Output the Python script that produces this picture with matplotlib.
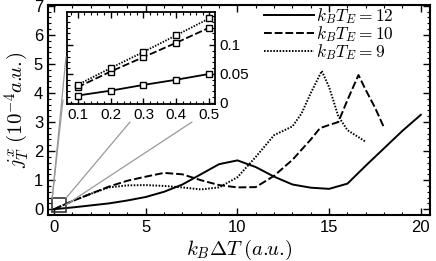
import matplotlib
matplotlib.use("Agg")
import matplotlib.pyplot as plt
from matplotlib.patches import Rectangle, ConnectionPatch
from matplotlib.ticker import MultipleLocator

plt.rcParams['font.family'] = ['Liberation Sans', 'DejaVu Sans']
plt.rcParams['mathtext.fontset'] = 'cm'

# main curves, j_T^x (10^-4 a.u.) vs k_B dT
x_12 = [0, 1, 2, 3, 4, 5, 6, 7, 8, 9, 10, 11, 12, 13, 14, 15, 16, 17, 18, 19, 20]
y_12 = [0, 0.06, 0.13, 0.2, 0.3, 0.42, 0.6, 0.85, 1.2, 1.55, 1.68, 1.45, 1.12,
        0.85, 0.74, 0.7, 0.88, 1.5, 2.1, 2.7, 3.25]

x_10 = [0, 1, 2, 3, 4, 5, 6, 7, 8, 9, 10, 11, 12, 13, 14, 14.5, 15, 15.5,
        16, 16.6, 17, 17.5, 18]
y_10 = [0, 0.28, 0.53, 0.78, 0.98, 1.12, 1.25, 1.2, 1.0, 0.83, 0.75, 0.76,
        1.15, 1.7, 2.4, 2.79, 2.9, 3.0, 3.76, 4.62, 4.1, 3.5, 2.8]

x_9 = [0, 1, 2, 3, 4, 5, 6, 7, 8, 9, 10, 11, 12, 13, 13.5, 14, 14.6, 15,
       15.5, 16, 17]
y_9 = [0, 0.28, 0.53, 0.75, 0.82, 0.83, 0.8, 0.75, 0.68, 0.75, 1.1, 1.8,
       2.55, 2.85, 3.3, 4.0, 4.76, 4.2, 3.2, 2.72, 2.32]

# inset: small dT
x_in = [0.1, 0.2, 0.3, 0.4, 0.5]
in_12 = [0.0126, 0.021, 0.031, 0.040, 0.050]
in_10 = [0.027, 0.054, 0.079, 0.104, 0.130]
in_9 = [0.031, 0.060, 0.088, 0.117, 0.146]

labels = ['$k_BT_E=12$', '$k_BT_E=10$', '$k_BT_E=9$']

W, H = 436, 261
fig = plt.figure(figsize=(W / 100, H / 100), dpi=100)
fig.set_facecolor('white')
ax = fig.add_axes([48 / W, 1 - 215 / H, 382 / W, 210 / H])

ax.plot(x_12, y_12, 'k-', lw=1.4, label=labels[0])
ax.plot(x_10, y_10, 'k--', lw=1.4, dashes=(4, 1.5), label=labels[1])
ax.plot(x_9, y_9, 'k:', lw=1.4, dashes=(0.8, 0.8), label=labels[2])

ax.set_xlim(-0.33, 20.5)
ax.set_ylim(-0.2, 7.03)
ax.xaxis.set_major_locator(MultipleLocator(5))
ax.xaxis.set_minor_locator(MultipleLocator(1))
ax.yaxis.set_major_locator(MultipleLocator(1))
ax.yaxis.set_minor_locator(MultipleLocator(0.2))
ax.tick_params(which='both', direction='in', top=True, right=True, labelsize=12)
ax.tick_params(which='major', length=5, width=1)
ax.tick_params(which='minor', length=2.5, width=0.8)
for s in ax.spines.values():
    s.set_linewidth(1.5)

ax.set_xlabel(r'$k_B\Delta T\;(a.\!\!u.\!)$', fontsize=15, labelpad=2)
ax.set_ylabel(r'$j_T^x\;(10^{-4}a.\!\!u.\!)$', fontsize=15, labelpad=2)

ax.legend(loc='upper right', bbox_to_anchor=(0.91, 1.005), frameon=False,
          fontsize=12.5, handlelength=2.9, handletextpad=0.1, labelspacing=-0.1,
          borderaxespad=0.0, borderpad=0.1)

# zoom box around the origin
bx0, bx1, by0, by1 = -0.1, 0.65, -0.1, 0.38
ax.add_patch(Rectangle((bx0, by0), bx1 - bx0, by1 - by0, fill=False,
                       ec='#333333', lw=1.2, zorder=5))

# gray connector lines (end points in figure pixels)
conns = [((bx0, by1), (66, 57)), ((bx0, by1), (63, 100)),
         ((bx1, by1), (130, 122)), ((bx1, 0.15), (192, 122))]
for a, (px, py) in conns:
    cp = ConnectionPatch(xyA=a, coordsA=ax.transData,
                         xyB=(px / W, 1 - py / H), coordsB=fig.transFigure,
                         color='#999999', lw=0.9, zorder=1)
    fig.add_artist(cp)

# inset
axi = fig.add_axes([67 / W, 1 - 104 / H, 148 / W, 92 / H])
axi.plot(x_in, in_12, 'k-s', lw=1.3, ms=5, mfc='white', mew=1)
axi.plot(x_in, in_10, 'k--s', lw=1.3, dashes=(4, 1.5), ms=5, mfc='white', mew=1)
axi.plot(x_in, in_9, 'k:s', lw=1.3, dashes=(0.8, 0.8), ms=5, mfc='white', mew=1)
axi.set_xlim(0.068, 0.517)
axi.set_ylim(-0.002, 0.157)
axi.xaxis.set_major_locator(MultipleLocator(0.1))
axi.xaxis.set_minor_locator(MultipleLocator(0.02))
axi.yaxis.set_major_locator(MultipleLocator(0.05))
axi.yaxis.set_minor_locator(MultipleLocator(0.01))
axi.set_xticks([0.1, 0.2, 0.3, 0.4, 0.5])
axi.set_xticklabels(['0.1', '0.2', '0.3', '0.4', '0.5'])
axi.set_yticks([0, 0.05, 0.1])
axi.set_yticklabels(['0', '0.05', '0.1'])
axi.yaxis.tick_right()
axi.tick_params(which='both', direction='in', top=True, left=True, right=True,
                labelsize=11, pad=3)
axi.tick_params(which='major', length=4, width=1)
axi.tick_params(which='minor', length=2, width=0.8)
for s in axi.spines.values():
    s.set_linewidth(1.3)

fig.savefig('out.png', dpi=100)
